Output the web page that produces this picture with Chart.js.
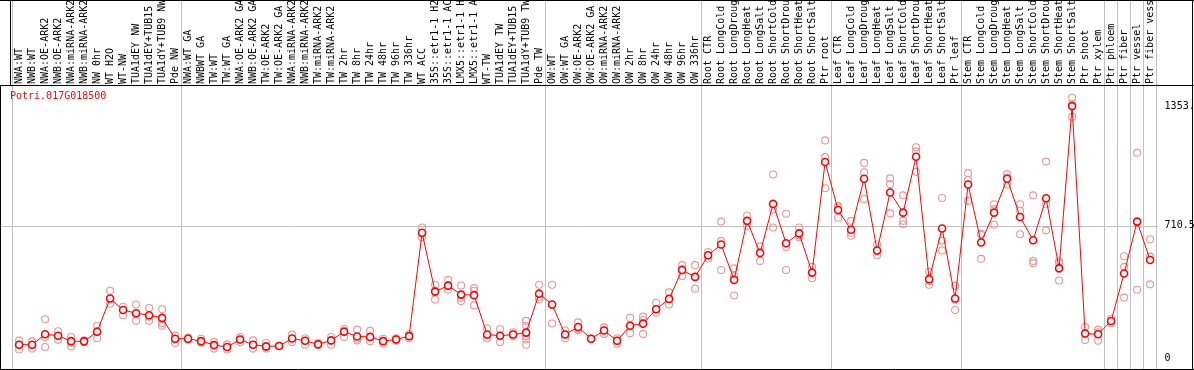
<!DOCTYPE html>
<html>
<head>
<meta charset="utf-8">
<script src="https://cdn.jsdelivr.net/npm/chart.js@4.4.0/dist/chart.umd.min.js"></script>
<style>
    html, body { margin: 0; padding: 0; background: #fff; }
    #wrap { position: relative; width: 1194px; height: 370px; overflow: hidden; }
    #geneId { position: absolute; left: 10px; top: 90px; font: 10px 'DejaVu Sans Mono', monospace; color: #f00; line-height: 12px; }
</style>
</head>
<body>
<div id="wrap">
    <canvas id="exprChart" width="1194" height="370"></canvas>
    <div id="geneId">Potri.017G018500</div>
</div>
<script>
// sample names (as printed, cut at 14 chars)
const samples = [
    'NWA:WT', 'NWB:WT', 'NWA:OE-ARK2', 'NWB:OE-ARK2', 'NWA:miRNA-ARK2', 'NWB:miRNA-ARK2', 'NW 0hr', 'WT H2O', 'WT-NW',
    'TUA1dEY NW', 'TUA1dEY+TUB15', 'TUA1dY+TUB9 NW', 'Pde NW',
    'NWA:WT GA', 'NWBWT GA', 'TW:WT', 'TW:WT GA', 'NWA:OE-ARK2 GA', 'NWB:OE-ARK2 GA', 'TW:OE-ARK2', 'TW:OE-ARK2 GA',
    'NWA:miRNA-ARK2', 'NWB:miRNA-ARK2', 'TW:miRNA-ARK2', 'TW:miRNA-ARK2', 'TW 2hr', 'TW 8hr', 'TW 24hr', 'TW 48hr',
    'TW 96hr', 'TW 336hr', 'WT ACC', '35S::etr1-1 H2', '35S::etr1-1 AC', 'LMX5::etr1-1 H', 'LMX5::etr1-1 A', 'WT-TW',
    'TUA1dEY TW', 'TUA1dEY+TUB15', 'TUA1dY+TUB9 TW', 'Pde TW',
    'OW:WT', 'OW:WT GA', 'OW:OE-ARK2', 'OW:OE-ARK2 GA', 'OW:miRNA-ARK2', 'OW:miRNA-ARK2', 'OW 2hr', 'OW 8hr', 'OW 24hr',
    'OW 48hr', 'OW 96hr', 'OW 336hr',
    'Root CTR', 'Root LongCold', 'Root LongDroug', 'Root LongHeat', 'Root LongSalt', 'Root ShortCold', 'Root ShortDrou',
    'Root ShortHeat', 'Root ShortSalt', 'Ptr root',
    'Leaf CTR', 'Leaf LongCold', 'Leaf LongDroug', 'Leaf LongHeat', 'Leaf LongSalt', 'Leaf ShortCold', 'Leaf ShortDrou',
    'Leaf ShortHeat', 'Leaf ShortSalt', 'Ptr leaf',
    'Stem CTR', 'Stem LongCold', 'Stem LongDroug', 'Stem LongHeat', 'Stem LongSalt', 'Stem ShortCold', 'Stem ShortDrou',
    'Stem ShortHeat', 'Stem ShortSalt', 'Ptr shoot', 'Ptr xylem',
    'Ptr phloem', 'Ptr fiber', 'Ptr vessel', 'Ptr fiber vess'
];

// first sample index of each group (last entry = end)
const groupStarts = [0, 13, 41, 53, 63, 73, 84, 85, 86, 87, 88];

const meanExpr = [
    72, 72, 128, 120, 91, 90, 142, 320, 258, 241, 230, 216, 104,
    104, 91, 70, 60, 100, 72, 63, 65, 105, 93, 74, 95, 142, 116, 114, 91, 100, 118, 673, 357, 389, 341, 338, 127,
    120, 127, 137, 346,
    288, 127, 167, 104, 148, 93, 174, 185, 262, 318, 473, 436,
    552, 610, 420, 737, 564, 828, 617, 670, 459, 1053,
    795, 689, 963, 578, 889, 781, 1081, 424, 696, 320,
    932, 621, 781, 963, 758, 633, 858, 482, 1353, 132, 128,
    199, 454, 733, 527
];

const replicates = [
    [95, 72, 46], [90, 69, 51], [209, 113, 60], [144, 119, 98], [113, 83, 63], [95, 90, 85], [174, 139, 107],
    [362, 318, 292], [276, 258, 230], [288, 237, 200], [269, 222, 200], [262, 209, 188, 174], [121, 100, 81],
    [110, 100, 100], [104, 88, 83], [86, 70, 51], [74, 60, 46], [113, 100, 86], [95, 72, 51], [81, 60, 51],
    [65, 65, 65], [127, 105, 86], [107, 93, 72], [81, 74, 69], [113, 95, 72], [156, 142, 113], [153, 104, 95],
    [146, 114, 90], [104, 91, 79], [107, 100, 93], [128, 118, 107], [701, 668, 649], [394, 362, 315],
    [420, 389, 367], [390, 323, 306], [376, 362, 283], [160, 120, 107], [156, 120, 86], [139, 127, 118],
    [200, 174, 118, 100, 72], [394, 330, 315],
    [394, 285, 186], [148, 127, 107], [192, 157, 150], [104, 104, 104], [165, 148, 130], [107, 93, 77],
    [216, 174, 134], [223, 205, 130], [297, 262, 244], [353, 318, 288], [499, 478, 441], [499, 436, 373],
    [570, 552, 535], [733, 628, 473], [482, 440, 336], [766, 737, 710], [600, 570, 522], [986, 798, 701],
    [775, 596, 473], [701, 660, 649], [490, 459, 429], [1169, 1079, 912],
    [816, 810, 754], [737, 673, 657], [1048, 997, 854], [610, 572, 552], [965, 934, 777], [874, 737, 719],
    [1132, 1110, 1000], [464, 414, 394], [860, 631, 578], [389, 313, 258],
    [993, 958, 844], [668, 662, 533], [826, 800, 716], [988, 970, 932], [826, 791, 665], [874, 522, 510],
    [1055, 826, 686], [510, 520, 417], [1398, 1365, 1296], [167, 132, 97], [153, 138, 93],
    [211, 199, 187], [547, 490, 325], [1102, 730, 367], [638, 545, 396]
];

const yTickValues = [0, 710.5, 1353];
const yTickLabels = ['0', '710.5', '1353.'];
const yGridValue = 710.5;

const monoFont = { family: "'DejaVu Sans Mono', monospace", size: 10 };

// category index + value, already in the scale's internal form
const repPoints = [];
replicates.forEach((reps, i) => reps.forEach(v => repPoints.push({ x: i, y: v })));

// frame, group separators and the middle guide line
const framePlugin = {
    id: 'frame',
    beforeDatasetsDraw(chart) {
        const { ctx, scales: { x, y } } = chart;
        ctx.save();
        ctx.lineWidth = 1;
        ctx.strokeStyle = '#c0c0c0';
        groupStarts.forEach(k => {
            const px = Math.round(x.getPixelForValue(k) - 7.5) + 0.5;
            ctx.beginPath();
            ctx.moveTo(px, 0);
            ctx.lineTo(px, 370);
            ctx.stroke();
        });
        const gy = Math.round(y.getPixelForValue(yGridValue)) + 0.5;
        ctx.beginPath();
        ctx.moveTo(1, gy);
        ctx.lineTo(1158, gy);
        ctx.stroke();
        ctx.restore();
    },
    afterDraw(chart) {
        const { ctx } = chart;
        ctx.save();
        ctx.lineWidth = 1;
        ctx.strokeStyle = '#000';
        ctx.beginPath();
        ctx.moveTo(0, 0.5); ctx.lineTo(1194, 0.5);
        ctx.moveTo(0, 85.5); ctx.lineTo(1194, 85.5);
        ctx.moveTo(0, 369.5); ctx.lineTo(1194, 369.5);
        ctx.moveTo(1192.5, 0); ctx.lineTo(1192.5, 370);
        ctx.moveTo(0.5, 85); ctx.lineTo(0.5, 370);
        ctx.moveTo(10.5, 0); ctx.lineTo(10.5, 86);
        ctx.stroke();
        ctx.restore();
    }
};

new Chart(document.getElementById('exprChart'), {
    type: 'line',
    data: {
        labels: samples,
        datasets: [
            {
                label: 'mean',
                data: meanExpr,
                borderColor: '#ff0000',
                borderWidth: 1,
                tension: 0,
                pointRadius: 3.5,
                pointBorderWidth: 1.6,
                pointBorderColor: '#ff0000',
                pointBackgroundColor: '#ffffff'
            },
            {
                type: 'scatter',
                label: 'replicates',
                data: repPoints,
                parsing: false,
                showLine: false,
                pointRadius: 3.5,
                pointBorderWidth: 1.1,
                pointBorderColor: '#eb9797',
                pointBackgroundColor: 'rgba(0,0,0,0)'
            }
        ]
    },
    options: {
        responsive: false,
        animation: false,
        devicePixelRatio: 1,
        layout: { padding: { left: 12.6, right: 0, top: 0, bottom: 1 } },
        plugins: { legend: { display: false }, tooltip: { enabled: false } },
        scales: {
            x: {
                type: 'category',
                position: 'top',
                offset: true,
                grid: { display: false },
                border: { display: false },
                ticks: {
                    autoSkip: false,
                    minRotation: 90,
                    maxRotation: 90,
                    padding: -6,
                    labelOffset: 12,
                    color: '#000',
                    font: monoFont
                },
                afterFit(scale) { scale.height = 86; }
            },
            y: {
                position: 'right',
                min: -31.6,
                max: 1461,
                grid: { display: false },
                border: { display: false },
                afterBuildTicks(scale) {
                    scale.ticks = yTickValues.map(v => ({ value: v }));
                },
                ticks: {
                    padding: 0,
                    color: '#000',
                    font: monoFont,
                    callback: (v, i) => yTickLabels[i]
                },
                afterFit(scale) { scale.width = 37.4; }
            }
        }
    },
    plugins: [framePlugin]
});
</script>
</body>
</html>
